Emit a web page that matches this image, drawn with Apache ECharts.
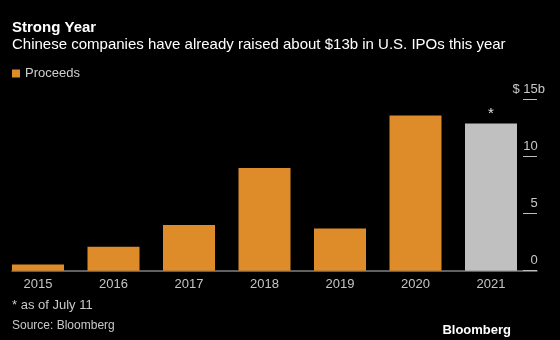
<!DOCTYPE html>
<html>
<head>
<meta charset="utf-8">
<script src="https://cdn.jsdelivr.net/npm/echarts@6/dist/echarts.min.js"></script>
<style>
  html, body { margin: 0; padding: 0; background: #000; }
  #chart { width: 560px; height: 340px; }
</style>
</head>
<body>
<div id="chart"></div>
<script>
// Chinese company IPO proceeds in the U.S., by year ($ billions)
const years = ['2015', '2016', '2017', '2018', '2019', '2020', '2021'];
const proceeds = [0.55, 2.1, 4.0, 9.0, 3.7, 13.6, 12.9];
const partialYear = '2021';          // year to date, drawn grey with an asterisk
const yTicks = [0, 5, 10, 15];

const FONT = 'Liberation Sans, Arial, sans-serif';
const ORANGE = '#de8b29';
const GREY_BAR = '#c0c0c0';
const LABEL_GREY = '#c8c8c8';

const barData = years.map((y, i) => {
  if (y === partialYear) {
    return {
      value: proceeds[i],
      itemStyle: { color: GREY_BAR },
      label: {
        show: true, position: 'top', formatter: '*', distance: 2,
        color: '#e0e0e0', fontSize: 15, fontFamily: FONT
      }
    };
  }
  return proceeds[i];
});

const chart = echarts.init(document.getElementById('chart'), null, { renderer: 'canvas' });

chart.setOption({
  backgroundColor: '#000',
  animation: false,
  title: [
    {
      text: 'Strong Year',
      subtext: 'Chinese companies have already raised about $13b in U.S. IPOs this year',
      left: 12, top: 20, padding: 0, itemGap: 2,
      textStyle: { color: '#fff', fontSize: 15, fontWeight: 'bold', fontFamily: FONT },
      subtextStyle: { color: '#fff', fontSize: 15, fontFamily: FONT }
    },
    {
      text: '* as of July 11',
      left: 12, top: 299, padding: 0,
      textStyle: { color: LABEL_GREY, fontSize: 13, fontWeight: 'normal', fontFamily: FONT }
    },
    {
      text: 'Source: Bloomberg',
      left: 12, top: 320, padding: 0,
      textStyle: { color: LABEL_GREY, fontSize: 12, fontWeight: 'normal', fontFamily: FONT }
    },
    {
      text: 'Bloomberg',
      right: 49, top: 324, padding: 0,
      textStyle: { color: '#fff', fontSize: 13, fontWeight: 'bold', fontFamily: FONT }
    }
  ],
  legend: {
    left: 12, top: 67, padding: 0,
    icon: 'rect', itemWidth: 8, itemHeight: 8, itemGap: 10,
    textStyle: { color: '#cfcfcf', fontSize: 13, fontFamily: FONT },
    data: ['Proceeds']
  },
  grid: [
    { left: 0.25, right: 31.25, top: 99.5, bottom: 69.3 },
    // baseline rule spanning from the first bar to the tick column
    { left: 12, right: 23, top: 99.5, bottom: 69.3 }
  ],
  xAxis: [
    {
      type: 'category', gridIndex: 0, data: years,
      axisLine: { show: false },
      axisTick: { show: false },
      axisLabel: { color: '#c4c4c4', fontSize: 13, margin: 7, fontFamily: FONT }
    },
    {
      type: 'value', gridIndex: 1, min: 0, max: 1,
      axisLine: { show: true, lineStyle: { color: '#808080', width: 1.5 } },
      axisTick: { show: false }, axisLabel: { show: false }, splitLine: { show: false }
    }
  ],
  yAxis: [
    {
      type: 'value', gridIndex: 0, position: 'right', offset: 8.25,
      min: 0, max: 15, interval: 5,
      axisLine: { show: false },
      axisTick: { show: true, inside: true, length: 14, lineStyle: { color: '#bdbdbd', width: 1 } },
      splitLine: { show: false },
      axisLabel: {
        inside: true, margin: -8, align: 'right', verticalAlign: 'bottom',
        padding: [0, 0, 4, 0],
        color: LABEL_GREY, fontSize: 13, fontFamily: FONT,
        // the unit suffix hangs past the numbers; other labels reserve the same room
        formatter: v => (v === yTicks[yTicks.length - 1]
          ? '{n|$ ' + v + '}{u|b}'
          : '{n|' + v + '}{h|b}'),
        rich: {
          n: { color: LABEL_GREY, fontSize: 13, fontFamily: FONT },
          u: { color: LABEL_GREY, fontSize: 13, fontFamily: FONT },
          h: { color: 'transparent', fontSize: 13, fontFamily: FONT }
        }
      }
    },
    { type: 'value', gridIndex: 1, show: false, min: 0, max: 1 }
  ],
  series: [
    {
      name: 'Proceeds', type: 'bar',
      xAxisIndex: 0, yAxisIndex: 0,
      data: barData,
      barWidth: 52,
      itemStyle: { color: ORANGE }
    }
  ]
});
</script>
</body>
</html>
